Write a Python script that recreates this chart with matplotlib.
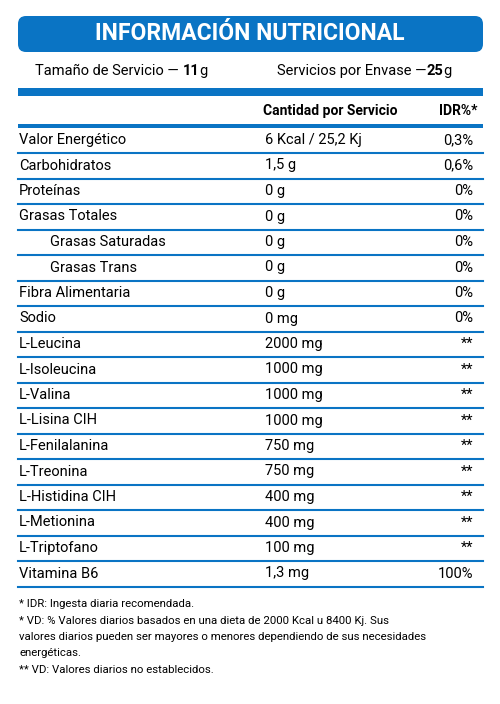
import matplotlib.pyplot as plt
from matplotlib.patches import FancyBboxPatch, Rectangle

BLUE = '#0a74c4'
plt.rcParams['font.family'] = ['Roboto', 'DejaVu Sans']

nutrients = ['Valor Energético', 'Carbohidratos', 'Proteínas', 'Grasas Totales',
             'Grasas Saturadas', 'Grasas Trans', 'Fibra Alimentaria', 'Sodio',
             'L-Leucina', 'L-Isoleucina', 'L-Valina', 'L-Lisina CIH', 'L-Fenilalanina',
             'L-Treonina', 'L-Histidina CIH', 'L-Metionina', 'L-Triptofano', 'Vitamina B6']
amounts = ['6 Kcal / 25,2 Kj', '1,5 g', '0 g', '0 g', '0 g', '0 g', '0 g', '0 mg',
           '2000 mg', '1000 mg', '1000 mg', '1000 mg', '750 mg', '750 mg',
           '400 mg', '400 mg', '100 mg', '1,3 mg']
idr = ['0,3%', '0,6%', '0%', '0%', '0%', '0%', '0%', '0%',
       '**', '**', '**', '**', '**', '**', '**', '**', '**', '100%']
indented = ['Grasas Saturadas', 'Grasas Trans']
footnotes = ['* IDR: Ingesta diaria recomendada.',
             '* VD: % Valores diarios basados en una dieta de 2000 Kcal u 8400 Kj. Sus',
             'valores diarios pueden ser mayores o menores dependiendo de sus necesidades',
             'energéticas.',
             '** VD: Valores diarios no establecidos.']

fig = plt.figure(figsize=(5, 7.04), dpi=100)
ax = fig.add_axes([0, 0, 1, 1])
ax.set_xlim(0, 500)
ax.set_ylim(704, 0)
ax.axis('off')

# title box
ax.add_patch(FancyBboxPatch((18, 16), 465, 36, boxstyle='round,pad=0,rounding_size=8',
                            fc=BLUE, ec='none'))
ax.text(250, 34, 'INFORMACIÓN NUTRICIONAL', color='white', fontsize=16.5, weight='bold',
        ha='center', va='center')


def run(x, y, parts):
    # draw a sequence of (text, weight) pieces one after another
    r = fig.canvas.get_renderer()
    for s, w in parts:
        t = ax.text(x, y, s, fontsize=10.5, weight=w, va='center')
        bb = t.get_window_extent(r)
        x += bb.width


run(35, 71, [('Tamaño de Servicio — ', 'normal'), ('11', 'bold'), ('g', 'normal')])
run(277, 71, [('Servicios por Envase —', 'normal'), ('25', 'bold'), ('g', 'normal')])

ax.add_patch(Rectangle((18, 88), 465, 8, fc=BLUE, ec='none'))
ax.text(330, 111, 'Cantidad por Servicio', fontsize=10, weight='bold', ha='center', va='center')
ax.text(478, 111, 'IDR%*', fontsize=10, weight='bold', ha='right', va='center')
ax.add_patch(Rectangle((18, 124), 465, 4, fc=BLUE, ec='none'))

y0, step = 140, 25.5
for i, (n, a, d) in enumerate(zip(nutrients, amounts, idr)):
    y = y0 + i * step
    x = 50 if n in indented else 19
    ax.text(x, y, n, fontsize=10.5, va='center')
    ax.text(265, y, a, fontsize=10.5, va='center')
    ax.text(473, y, d, fontsize=10.5, ha='right', va='center')
    ax.plot([18, 483], [y + 13, y + 13], color=BLUE, lw=1.5)

for i, f in enumerate(footnotes):
    ax.text(19, 604 + i * 16.5, f, fontsize=8.2, va='center')

fig.savefig('out.png', dpi=100)
